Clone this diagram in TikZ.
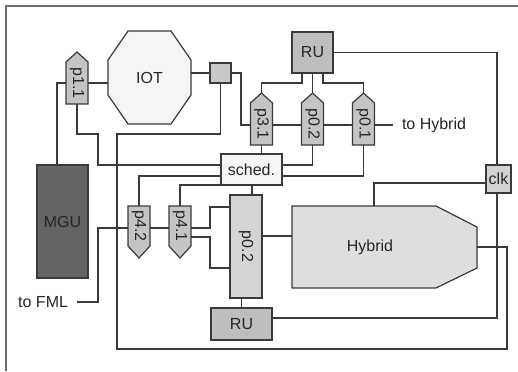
\documentclass[tikz,border=0pt]{standalone}
\usepackage{fontspec}
\setmainfont{Liberation Sans}
\usepackage{graphicx}
\usetikzlibrary{calc}
\definecolor{ln}{HTML}{3A3A3A}
\definecolor{portc}{HTML}{C4C4C4}
\definecolor{ruc}{HTML}{BEBEBE}
\definecolor{lightc}{HTML}{F5F5F5}
\definecolor{hyc}{HTML}{DEDEDE}
\definecolor{pbc}{HTML}{D4D4D4}
\definecolor{mguc}{HTML}{646464}
\definecolor{clkc}{HTML}{D2D2D2}
\definecolor{sqc}{HTML}{C8C8C8}
\definecolor{brd}{HTML}{6E6E6E}
\tikzset{
  wire/.style={draw=ln, line width=1.2bp},
  shp/.style={draw=ln, line width=1.2bp},
  txt/.style={font=\fontsize{16bp}{18bp}\selectfont, text=black!85},
  anc/.style={shape=rectangle, inner sep=0pt, outer sep=0pt, draw=none},
  box/.style={shape=rectangle, inner sep=0pt, outer sep=0pt, draw=ln, line width=1.2bp, txt},
}
\newcommand{\myportup}[4]{%
  \filldraw[shp, fill=portc] (#2-11,#3+26) -- (#2-11,#3-16) -- (#2,#3-26) -- (#2+11,#3-16) -- (#2+11,#3+26) -- cycle;
  \node[anc, minimum width=22bp, minimum height=52bp] (#1) at (#2,#3) {};
  \node[anc, txt] (#1t) at (#2,#3+5) {\rotatebox{-90}{#4}};
}
\newcommand{\myportdn}[4]{%
  \filldraw[shp, fill=portc] (#2-11,#3-26) -- (#2-11,#3+14) -- (#2,#3+26) -- (#2+11,#3+14) -- (#2+11,#3-26) -- cycle;
  \node[anc, minimum width=22bp, minimum height=52bp] (#1) at (#2,#3) {};
  \node[anc, txt] (#1t) at (#2,#3-6) {\rotatebox{-90}{#4}};
}
\begin{document}
\begin{tikzpicture}[x=1bp,y=-1bp]
\useasboundingbox (0,0) rectangle (518,371);
\draw[brd, line width=2bp] (6,371) -- (6,6) -- (518,6);

% IOT octagon
\filldraw[shp, fill=lightc] (128,31) -- (171,31) -- (191,60) -- (191,95) -- (171,124) -- (128,124) -- (108,95) -- (108,60) -- cycle;
\node[anc, txt, minimum width=83bp, minimum height=93bp] (iot) at (149.5,78) {IOT};

% Hybrid
\filldraw[shp, fill=hyc] (292,206) -- (436,206) -- (477,227) -- (477,268) -- (436,288) -- (292,288) -- cycle;
\node[anc, minimum width=185bp, minimum height=82bp] (hy) at (384.5,247) {};
\node[anc, txt] (hyt) at (370,247) {Hybrid};

% ports
\myportup{p11}{77}{78}{p1.1}
\myportup{p31}{261.5}{119}{p3.1}
\myportup{p02t}{312.5}{119}{p0.2}
\myportup{p01}{363.5}{119}{p0.1}
\myportdn{p42}{139}{232}{p4.2}
\myportdn{p41}{180}{232}{p4.1}

% boxes
\node[box, fill=sqc, minimum width=21bp, minimum height=20bp] (sq) at (220.5,73) {};
\node[box, fill=ruc, minimum width=41bp, minimum height=41bp] (ru1) at (312.5,52.5) {RU};
\node[box, fill=lightc, minimum width=61bp, minimum height=31bp] (sched) at (251.5,169.5) {sched.};
\node[box, fill=clkc, minimum width=25bp, minimum height=28bp] (clk) at (498.5,179) {clk};
\node[box, fill=mguc, minimum width=51bp, minimum height=113bp] (mgu) at (62.5,221.5) {MGU};
\node[box, fill=pbc, minimum width=32bp, minimum height=103bp] (pb) at (246,246.5) {\rotatebox{-90}{p0.2}};
\node[box, fill=ruc, minimum width=61bp, minimum height=32bp] (ru2) at (241.5,324) {RU};

% texts
\node[anc, txt, anchor=west, inner xsep=9bp] (tohy) at (393,125) {to Hybrid};
\node[anc, txt, anchor=east, inner xsep=9bp] (fml) at (77,302) {to FML};

% connectors
\draw[wire] (p11.west |- 0,83) -| (57,0 |- mgu.north);
\draw[wire] (p11.east |- 0,83) -- (iot.west |- 0,83);
\draw[wire] (iot.east |- sq.west) -- (sq.west);
\draw[wire] (sq.east) -- (241,73) |- (p31.west |- 0,125);
\draw[wire] (p31.east |- 0,125) -- (p02t.west |- 0,125);
\draw[wire] (p02t.east |- 0,125) -- (p01.west |- 0,125);
\draw[wire] (p01.east |- 0,125) -- (tohy.west);
\draw[wire] (302,0 |- ru1.south) -- (302,83) -| (p31.north);
\draw[wire] (ru1.south) -- (p02t.north);
\draw[wire] (323,0 |- ru1.south) -- (323,83) -| (p01.north);
\draw[wire] (ru1.east) -| (497,0 |- clk.north);
\draw[wire] (clk.west |- 0,183) -| (374,0 |- hy.north);
\draw[wire] (497,0 |- clk.south) |- (ru2.east |- 0,318);
\draw[wire] (hy.east) -- (507,247) |- (117,349) |- (sq.south |- 0,134) -- (sq.south);
\draw[wire] (p11.south) |- (98,134) |- (sched.west |- 0,165);
\draw[wire] (sched.west |- 0,176) -| (p42.north);
\draw[wire] (sched.south west) -| (p41.north);
\draw[wire] (p31.south) -- (p31.south |- sched.north);
\draw[wire] (p02t.south) |- (sched.east |- 0,165);
\draw[wire] (p01.south) |- (sched.east |- 0,176);
\draw[wire] (252,0 |- sched.south) -- (252,0 |- pb.north);
\draw[wire] (fml.east) -| (98,228) -- (p42.west |- 0,228);
\draw[wire] (p42.east |- 0,228) -- (p41.west |- 0,228);
\draw[wire] (p41.east |- 0,228) -- (210,228) |- (pb.west |- 0,207);
\draw[wire] (p41.east |- 0,237) -- (210,237) |- (pb.west |- 0,268);
\draw[wire] (pb.east |- 0,236) -- (hy.west |- 0,236);
\draw[wire] (ru2.north |- pb.south) -- (ru2.north);
\end{tikzpicture}
\end{document}
